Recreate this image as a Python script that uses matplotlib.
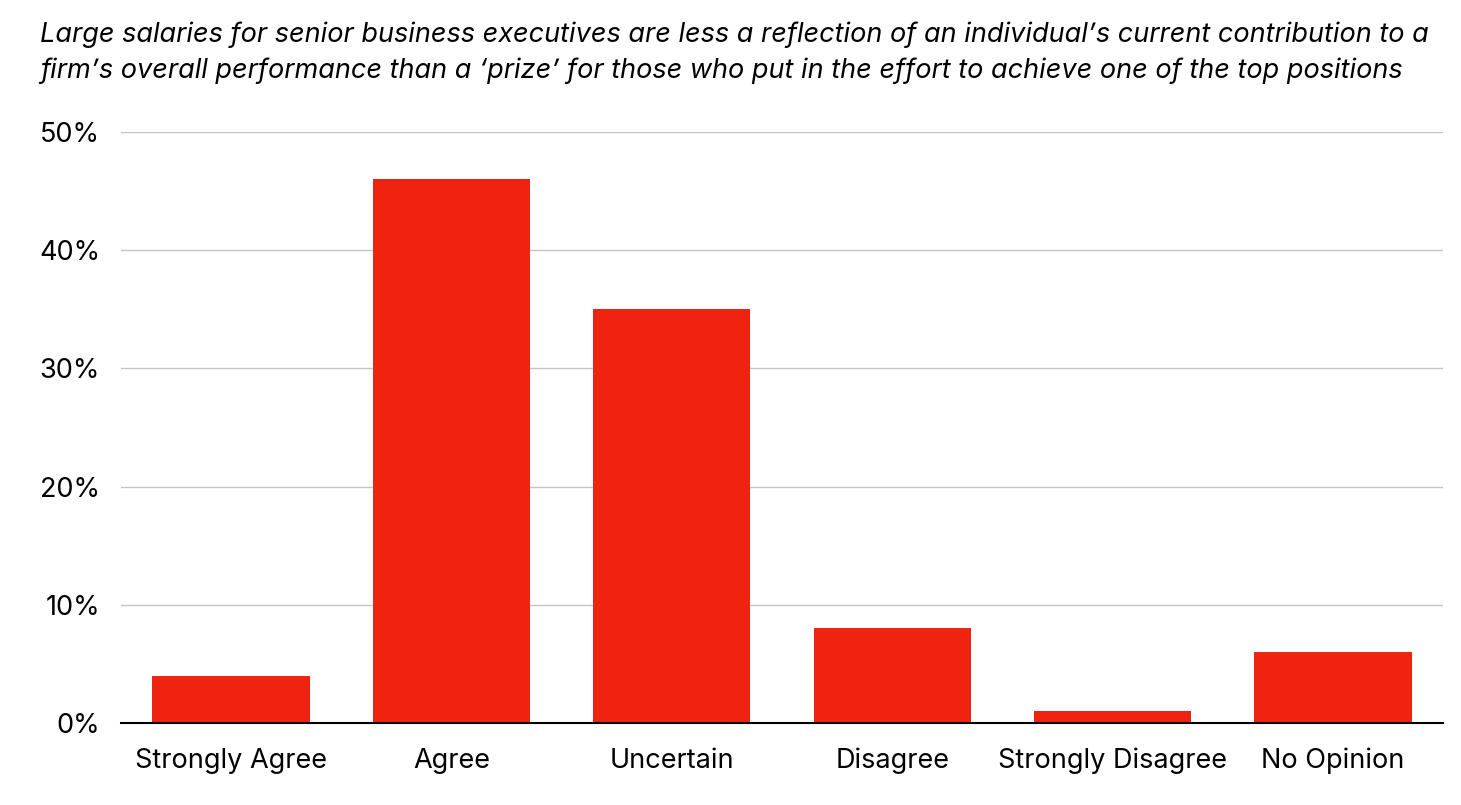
import matplotlib.pyplot as plt
from matplotlib.ticker import PercentFormatter

plt.rcParams['font.family'] = ['Inter', 'DejaVu Sans']

# survey responses (percent)
categories = ["Strongly Agree", "Agree", "Uncertain", "Disagree", "Strongly Disagree", "No Opinion"]
values = [4, 46, 35, 8, 1, 6]
yticks = [0, 10, 20, 30, 40, 50]

title = ("Large salaries for senior business executives are less a reflection of an individual\u2019s current contribution to a\n"
         "firm\u2019s overall performance than a \u2018prize\u2019 for those who put in the effort to achieve one of the top positions")

fig = plt.figure(figsize=(14.61, 8.05), dpi=100)
ax = fig.add_axes([0.0828, 0.1019, 0.9049, 0.7342])

ax.bar(range(len(categories)), values, width=0.714, color='#EE2410', zorder=2)

ax.set_xlim(-0.5, len(categories) - 0.5)
ax.set_ylim(0, 50)
ax.set_yticks(yticks)
ax.yaxis.set_major_formatter(PercentFormatter(decimals=0))
ax.set_xticks(range(len(categories)))
ax.set_xticklabels(categories)

ax.grid(axis='y', color='#C4C4C4', linewidth=1, zorder=0)
ax.tick_params(axis='both', length=0, labelsize=19.5)
ax.tick_params(axis='y', pad=15)
ax.tick_params(axis='x', pad=18)

for s in ['top', 'right', 'left']:
    ax.spines[s].set_visible(False)
ax.spines['bottom'].set_color('black')
ax.spines['bottom'].set_linewidth(1.5)
ax.spines['bottom'].set_zorder(3)

fig.text(40 / 1461, 1 - 22 / 805, title, ha='left', va='top', fontsize=19.5,
         style='italic', linespacing=1.45)

fig.savefig("out.png", dpi=100)
